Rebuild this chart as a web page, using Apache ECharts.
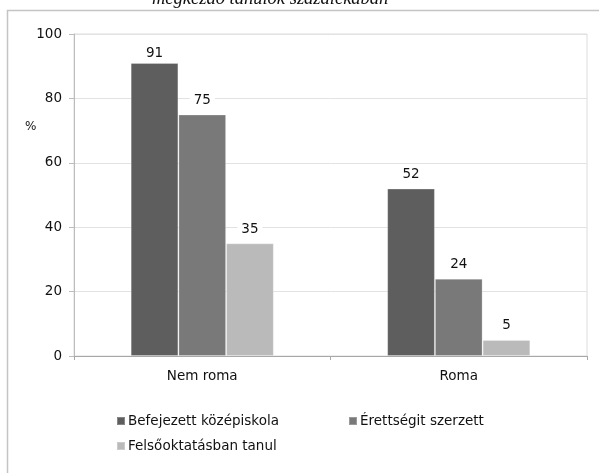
<!DOCTYPE html>
<html><head><meta charset="utf-8">
<script src="https://cdn.jsdelivr.net/npm/echarts@6/dist/echarts.min.js"></script>
<style>html,body{margin:0;padding:0;background:#fff}#c{width:599px;height:473px}</style>
</head><body><div id="c"></div>
<script>
var categories = ['Nem roma', 'Roma'];
var seriesNames = ['Befejezett középiskola', 'Érettségit szerzett', 'Felsőoktatásban tanul'];
var befejezett = [91, 52];
var erettsegi = [75, 24];
var felso = [35, 5];
var yTicks = [0, 20, 40, 60, 80, 100];
var colors = ['#5e5e5e', '#797979', '#bababa'];
var values = [befejezett, erettsegi, felso];
var FONT = '"DejaVu Sans", Arial, sans-serif';

var chart = echarts.init(document.getElementById('c'));
var series = values.map(function (arr, i) {
  return {
    name: seriesNames[i],
    type: 'bar',
    barWidth: '18.6%',
    barGap: '0%',
    itemStyle: { color: colors[i], borderColor: 'rgba(255,255,255,0.25)', borderWidth: 1 },
    label: {
      show: true, position: 'top', distance: 6,
      color: '#111', fontSize: 13.5, fontFamily: FONT,
      backgroundColor: '#fff', padding: [1, 4]
    },
    data: arr.map(function (v, j) {
      if (i === 0 && j === 0) return { value: v, label: { distance: 1 } };
      return v;
    })
  };
});
var legendPos = [[116, 414], [348, 414], [116, 439]];
chart.setOption({
  animation: false,
  textStyle: { fontFamily: FONT },
  grid: { left: 74, right: 12, top: 34, bottom: 117, show: true, borderColor: '#dcdcdc', borderWidth: 1 },
  legend: seriesNames.map(function (n, i) {
    return {
      data: [n], left: legendPos[i][0], top: legendPos[i][1],
      icon: 'rect', itemWidth: 8, itemHeight: 8, itemGap: 4, padding: 0,
      textStyle: { fontSize: 13.5, fontFamily: FONT, color: '#111', padding: [0, 0, 0, -2] },
      selectedMode: false
    };
  }),
  xAxis: {
    type: 'category', data: categories,
    axisLine: { lineStyle: { color: '#a8a8a8' } },
    axisTick: { show: true, length: 4, lineStyle: { color: '#a8a8a8' } },
    axisLabel: { color: '#111', fontSize: 13.5, fontFamily: FONT, margin: 13 }
  },
  yAxis: {
    type: 'value', min: yTicks[0], max: yTicks[yTicks.length - 1], interval: 20,
    axisLine: { show: true, lineStyle: { color: '#bcbcbc' } },
    axisTick: { show: true, length: 5, lineStyle: { color: '#bcbcbc' } },
    axisLabel: { color: '#111', fontSize: 13.5, fontFamily: FONT, margin: 12 },
    splitLine: { lineStyle: { color: '#e2e2e2' } }
  },
  graphic: [
    { type: 'rect', shape: { x: 7.5, y: 10.5, width: 700, height: 600 },
      style: { fill: 'none', stroke: '#c4c4c4', lineWidth: 1.5 }, silent: true },
    { type: 'text', left: 152, top: -10,
      style: { text: 'megkezdő tanulók százalékában', font: 'italic 18.5px "Liberation Serif", serif', fill: '#111' } },
    { type: 'text', left: 25, top: 121,
      style: { text: '%', font: '12px ' + FONT, fill: '#111' } }
  ],
  series: series
});
</script></body></html>
